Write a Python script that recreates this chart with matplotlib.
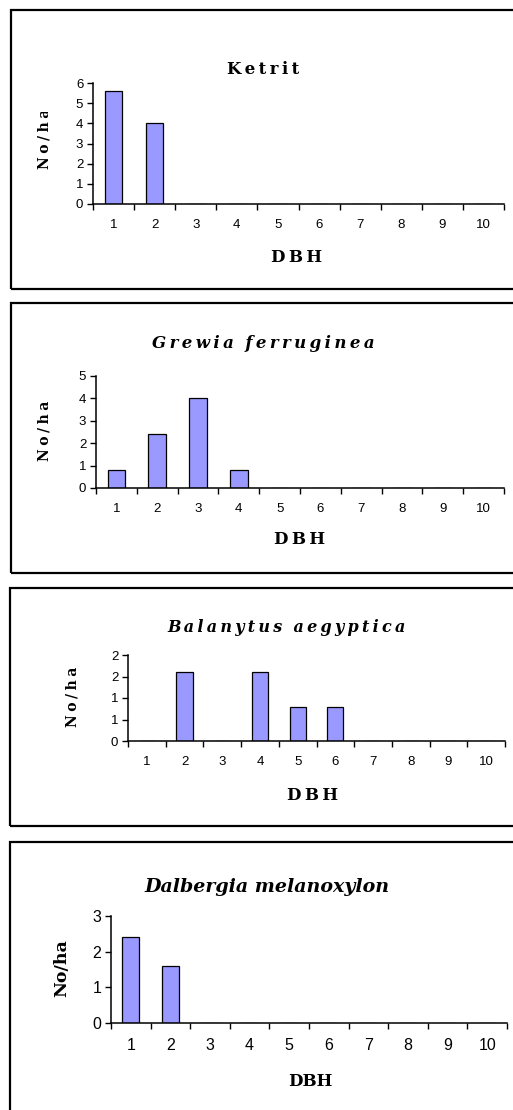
import matplotlib
matplotlib.use("Agg")
import matplotlib.pyplot as plt
from matplotlib.patches import Rectangle
from matplotlib.transforms import Bbox, TransformedBbox

# Data
dbh_classes = list(range(1, 11))
ketrit = [5.6, 4.0, 0, 0, 0, 0, 0, 0, 0, 0]
grewia = [0.8, 2.4, 4.0, 0.8, 0, 0, 0, 0, 0, 0]
balanytus = [0, 1.6, 0, 1.6, 0.8, 0.8, 0, 0, 0, 0]
dalbergia = [2.4, 1.6, 0, 0, 0, 0, 0, 0, 0, 0]

titles = ["Ketrit", "Grewia ferruginea", "Balanytus aegyptica", "Dalbergia melanoxylon"]
yticks_list = [[0, 1, 2, 3, 4, 5, 6], [0, 1, 2, 3, 4, 5], [0, 0.5, 1, 1.5, 2], [0, 1, 2, 3]]
yticklabels_list = [["0", "1", "2", "3", "4", "5", "6"], ["0", "1", "2", "3", "4", "5"],
                    ["0", "1", "1", "2", "2"], ["0", "1", "2", "3"]]

W, H = 513, 1110
fig = plt.figure(figsize=(W / 100, H / 100), dpi=100)


def fx(px):
    return px / W


def fy(py):
    return 1 - py / H


def spaced(s, gap="\u2009"):
    # wide letter spacing like the original
    return "  ".join(gap.join(w) for w in s.split(" "))


SERIF = ["DejaVu Serif", "DejaVu Sans"]
SANS = ["Liberation Sans"]

# outer frames of the four chart objects
frames = [(11, 10, 520, 289), (11, 303, 520, 573), (10, 588, 520, 826), (10, 842, 520, 1120)]
for x0, y0, x1, y1 in frames:
    fig.patches.append(Rectangle((fx(x0), fy(y1)), fx(x1) - fx(x0), fy(y0) - fy(y1),
                                 transform=fig.transFigure, fill=False, lw=1.6,
                                 edgecolor="black", clip_on=False))

panels = [
    dict(box=(93, 83, 504, 204), data=ketrit, ymax=6, title=(263, 69), tstyle="normal",
         spaced=True, dbh=(297, 257), ylab=(45, 169, 112), tfs=12, lfs=12, tick=9.5, ylfs=10),
    dict(box=(96, 376, 504, 488), data=grewia, ymax=5, title=(263, 344), tstyle="italic",
         spaced=True, dbh=(300, 540), ylab=(45, 461, 399), tfs=12, lfs=12, tick=9.5, ylfs=10),
    dict(box=(128, 655, 505, 741), data=balanytus, ymax=2, title=(287, 628), tstyle="italic",
         spaced=True, dbh=(313, 795), ylab=(72, 727, 661), tfs=11.5, lfs=12, tick=9.5, ylfs=10),
    dict(box=(111, 916, 507, 1023), data=dalbergia, ymax=3, title=(267, 887), tstyle="italic",
         spaced=False, dbh=(310, 1082), ylab=(62, 968, None), tfs=13.7, lfs=12, tick=11.5,
         ylfs=12.5),
]

for i, p in enumerate(panels):
    l, t, r, b = p["box"]
    ax = fig.add_axes([fx(l), fy(b), fx(r) - fx(l), fy(t) - fy(b)])
    ax.bar(dbh_classes, p["data"], width=0.43, color="#9999FF", edgecolor="black", lw=0.9)
    ax.set_xlim(0.5, 10.5)
    ax.set_ylim(0, p["ymax"])
    for s in ["top", "right"]:
        ax.spines[s].set_visible(False)
    for s in ["left", "bottom"]:
        ax.spines[s].set_linewidth(1.1)
    ax.set_xticks([k + 0.5 for k in range(0, 11)])
    ax.set_xticklabels([])
    ax.set_xticks(dbh_classes, minor=True)
    ax.set_xticklabels([str(c) for c in dbh_classes], minor=True, fontfamily=SANS,
                       fontsize=p["tick"])
    ax.tick_params(axis="x", which="major", direction="out", length=4.5, width=1)
    ax.tick_params(axis="x", which="minor", length=0, pad=11)
    ax.set_yticks(yticks_list[i])
    ax.set_yticklabels(yticklabels_list[i], fontfamily=SANS, fontsize=p["tick"])
    ax.tick_params(axis="y", direction="out", length=4, width=1, pad=3)

    name = spaced(titles[i]) if p["spaced"] else titles[i]
    fig.text(fx(p["title"][0]), fy(p["title"][1]), name, ha="center", va="center",
             fontfamily=SERIF, fontweight="bold", fontstyle=p["tstyle"], fontsize=p["tfs"])
    dbh = spaced("DBH") if p["spaced"] else "DBH"
    fig.text(fx(p["dbh"][0]), fy(p["dbh"][1]), dbh, ha="center", va="center",
             fontfamily=SERIF, fontweight="bold", fontsize=p["lfs"])

    yx, ybot, yclip = p["ylab"]
    if yclip is None:
        fig.text(fx(yx), fy(ybot), "No/ha", ha="center", va="center", rotation=90,
                 fontfamily=SERIF, fontweight="bold", fontsize=p["ylfs"])
    else:
        # the axis title is cut off at the top in the original
        txt = fig.text(fx(yx), fy(ybot), spaced("No/ha", "\u2005"), ha="left", va="center",
                       rotation=90, rotation_mode="anchor", fontfamily=SERIF,
                       fontweight="bold", fontsize=p["ylfs"])
        txt.set_clip_box(TransformedBbox(Bbox.from_extents(0, fy(ybot + 20), 1, fy(yclip)),
                                         fig.transFigure))
        txt.set_clip_on(True)

fig.savefig("out.png", dpi=100)
